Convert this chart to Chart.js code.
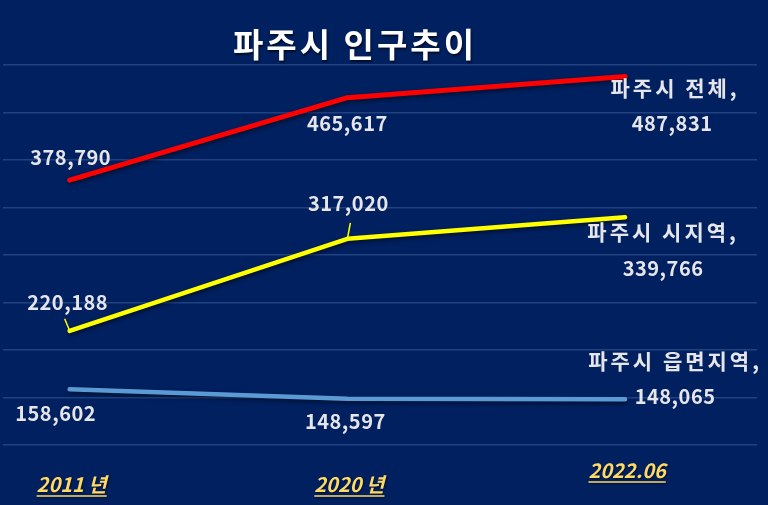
<!DOCTYPE html>
<html>
<head>
<meta charset="utf-8">
<script src="https://cdn.jsdelivr.net/npm/chart.js@4.4.0/dist/chart.umd.min.js"></script>
<style>
  html, body { margin: 0; padding: 0; background: #002060; }
  #wrap { width: 768px; height: 505px; }
</style>
</head>
<body>
<div id="wrap"><canvas id="chart"></canvas></div>
<script>
// data
const categories = ['2011 년', '2020 년', '2022.06'];
const seriesNames = ['파주시 전체', '파주시 시지역', '파주시 읍면지역'];
const totalPop = [378790, 465617, 487831];
const cityPop = [220188, 317020, 339766];
const ruralPop = [158602, 148597, 148065];
const yTicks = [100000, 150000, 200000, 250000, 300000, 350000, 400000, 450000, 500000];

const FONT = '"Noto Sans CJK KR", "Noto Sans", sans-serif';
const LABEL_COLOR = '#e6e6ea';

// where each value label sits relative to its point (dx, dy)
const labelOffsets = [
    [[1, -23], [0, 26], [47, 47]],
    [[-2, -28], [1, -35], [38, 51]],
    [[-14, 24], [-2, 23], [50, -3]]
];
// series name labels next to the last point
const nameOffsets = [[50, 11], [38, 15], [50, -38]];
// small leader lines (from label towards point)
const leaders = { 1: { 0: [-5, -12], 1: [3, -16] } };

function fmt(v) {
    return v.toLocaleString('en-US');
}

function toPoints(arr) {
    return arr.map((v, i) => ({ x: i, y: v }));
}

const bgPlugin = {
    id: 'bg',
    beforeDraw(chart) {
        const ctx = chart.ctx;
        ctx.save();
        ctx.fillStyle = '#002060';
        ctx.fillRect(0, 0, chart.width, chart.height);
        ctx.restore();
    }
};

const shadowPlugin = {
    id: 'lineShadow',
    beforeDatasetDraw(chart) {
        const ctx = chart.ctx;
        ctx.save();
        ctx.shadowColor = 'rgba(0, 0, 0, 0.55)';
        ctx.shadowBlur = 4;
        ctx.shadowOffsetX = 1;
        ctx.shadowOffsetY = 2;
    },
    afterDatasetDraw(chart) {
        chart.ctx.restore();
    }
};

const labelPlugin = {
    id: 'labels',
    afterDatasetsDraw(chart) {
        const ctx = chart.ctx;
        const xs = chart.scales.x;
        ctx.save();

        // title
        ctx.fillStyle = '#ffffff';
        ctx.font = 'bold 33px ' + FONT;
        ctx.letterSpacing = '3px';
        ctx.textAlign = 'center';
        ctx.textBaseline = 'middle';
        ctx.shadowColor = 'rgba(0,0,0,0.6)';
        ctx.shadowOffsetX = 1;
        ctx.shadowOffsetY = 2;
        ctx.shadowBlur = 2;
        ctx.fillText('파주시 인구추이', 355, 44);
        ctx.shadowColor = 'transparent';

        // value labels
        ctx.fillStyle = LABEL_COLOR;
        chart.data.datasets.forEach((ds, di) => {
            const meta = chart.getDatasetMeta(di);
            ctx.font = 'bold 20px ' + FONT;
            ctx.letterSpacing = '0.5px';
            meta.data.forEach((pt, i) => {
                const off = labelOffsets[di][i];
                ctx.fillText(fmt(ds.data[i].y), pt.x + off[0], pt.y + off[1]);
                const ld = leaders[di] && leaders[di][i];
                if (ld) {
                    ctx.strokeStyle = ds.borderColor;
                    ctx.lineWidth = 1.5;
                    ctx.beginPath();
                    ctx.moveTo(pt.x + ld[0], pt.y + ld[1]);
                    ctx.lineTo(pt.x, pt.y);
                    ctx.stroke();
                }
            });
            const last = meta.data[meta.data.length - 1];
            const no = nameOffsets[di];
            ctx.font = 'bold 21px ' + FONT;
            ctx.letterSpacing = '3px';
            ctx.fillText(seriesNames[di] + ',', last.x + no[0], last.y + no[1]);
        });

        // category labels, yellow italic underlined
        ctx.font = 'italic bold 20px ' + FONT;
        ctx.letterSpacing = '0px';
        ctx.fillStyle = '#ffd966';
        ctx.strokeStyle = '#ffd966';
        const labelY = [484, 484, 470];
        categories.forEach((c, i) => {
            const x = xs.getPixelForValue(i) + 2;
            const y = labelY[i];
            ctx.shadowColor = 'rgba(0,0,0,0.5)';
            ctx.shadowOffsetX = 1;
            ctx.shadowOffsetY = 1;
            ctx.fillText(c, x, y);
            const w = ctx.measureText(c).width;
            ctx.lineWidth = 1.5;
            ctx.beginPath();
            ctx.moveTo(x - w / 2, y + 12);
            ctx.lineTo(x + w / 2, y + 12);
            ctx.stroke();
        });
        ctx.restore();
    }
};

new Chart(document.getElementById('chart'), {
    type: 'line',
    data: {
        datasets: [
            { label: seriesNames[0], data: toPoints(totalPop), borderColor: '#ff0000', borderWidth: 5 },
            { label: seriesNames[1], data: toPoints(cityPop), borderColor: '#ffff00', borderWidth: 4.5 },
            { label: seriesNames[2], data: toPoints(ruralPop), borderColor: '#5b9bd5', borderWidth: 4.5 }
        ]
    },
    options: {
        responsive: true,
        maintainAspectRatio: false,
        animation: false,
        layout: { padding: { top: 65, bottom: 60, left: 3, right: 11 } },
        elements: {
            point: { radius: 0 },
            line: { tension: 0, borderCapStyle: 'round', borderJoinStyle: 'round' }
        },
        plugins: {
            legend: { display: false },
            tooltip: { enabled: false }
        },
        scales: {
            x: {
                type: 'linear',
                min: -0.24,
                max: 2.475,
                grid: { display: false },
                border: { display: false },
                ticks: { display: false },
                afterFit(scale) { scale.height = 0; }
            },
            y: {
                min: 100000,
                max: 500000,
                afterBuildTicks(scale) { scale.ticks = yTicks.map(v => ({ value: v })); },
                grid: { color: 'rgba(120, 150, 210, 0.28)', lineWidth: 1.5, drawTicks: false },
                border: { display: false },
                ticks: { display: false },
                afterFit(scale) { scale.width = 0; }
            }
        }
    },
    plugins: [bgPlugin, shadowPlugin, labelPlugin]
});
</script>
</body>
</html>
